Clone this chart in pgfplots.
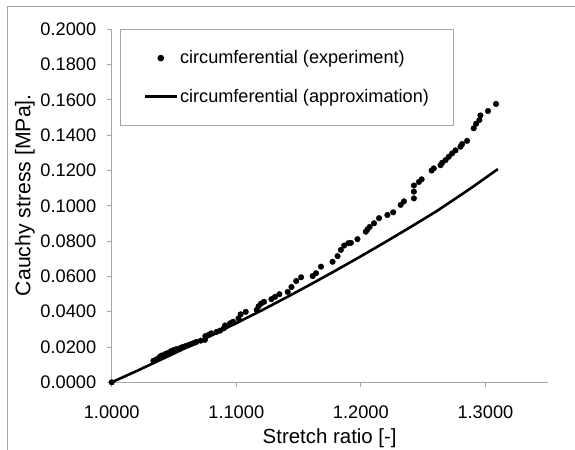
\documentclass[border=0pt]{standalone}
\usepackage{pgfplots}
\pgfplotsset{compat=1.18}
\usepackage{fontspec}
\setmainfont{Liberation Sans}
\definecolor{axisgray}{RGB}{165,165,165}
\begin{document}
\begin{tikzpicture}
% page frame, same size as the reference picture
\path[use as bounding box] (-111.7bp,-67.7bp) rectangle (463.3bp,382.3bp);
\draw[axisgray, line width=1bp] (-103.7bp,-67.7bp) -- (-103.7bp,375.3bp) -- (463.3bp,375.3bp);
\begin{axis}[
  scale only axis, width=436bp, height=353bp,
  xmin=1, xmax=1.35, ymin=0, ymax=0.2,
  axis x line*=bottom, axis y line*=left,
  axis line style={axisgray, line width=1bp, -},
  xtick={1,1.1,1.2,1.3},
  ytick={0,0.02,0.04,0.06,0.08,0.1,0.12,0.14,0.16,0.18,0.2},
  tick align=outside, major tick length=5bp,
  tick style={axisgray, line width=1bp},
  scaled ticks=false,
  /pgf/number format/assume math mode=true,
  xticklabel style={font=\fontsize{18.3}{21}\selectfont, yshift=-15bp, /pgf/number format/.cd, fixed, fixed zerofill, precision=4},
  yticklabel style={font=\fontsize{18.3}{21}\selectfont, xshift=-7bp, /pgf/number format/.cd, fixed, fixed zerofill, precision=4},
  xlabel={Stretch ratio [-]},
  ylabel={Cauchy stress [MPa].},
  xlabel style={font=\fontsize{20.5}{24}\selectfont, at={(axis description cs:0.5,-0.158)}, anchor=center},
  ylabel style={font=\fontsize{21.3}{24}\selectfont, at={(axis description cs:-0.199,0.53)}, anchor=center},
  clip=false,
  legend cell align=left,
  legend style={at={(axis description cs:0.019,1)}, anchor=north west,
    draw=axisgray, line width=1bp, font=\fontsize{18.2}{21}\selectfont,
    inner xsep=23bp, inner ysep=19bp, row sep=20bp},
  legend image code/.code={\draw[#1] (0bp,0bp) -- (32bp,0bp);},
]
\addplot[only marks, mark=*, mark size=2.8bp, black,
  legend image code/.code={\draw[mark=*, mark size=2.8bp, black] plot coordinates {(16bp,0bp)};}]
coordinates {
(1.0000,0.0000) (1.0335,0.0122) (1.0360,0.0130) (1.0387,0.0145) (1.0402,0.0152)
(1.0430,0.0160) (1.0446,0.0165) (1.0475,0.0176) (1.0500,0.0183) (1.0520,0.0188)
(1.0548,0.0193) (1.0570,0.0200) (1.0592,0.0205) (1.0615,0.0210) (1.0636,0.0216)
(1.0660,0.0223) (1.0680,0.0229) (1.0715,0.0236) (1.0748,0.0240) (1.0752,0.0262)
(1.0780,0.0270) (1.0800,0.0277) (1.0842,0.0286) (1.0870,0.0293) (1.0900,0.0306)
(1.0910,0.0322) (1.0950,0.0334) (1.0974,0.0343) (1.1018,0.0362) (1.1035,0.0385)
(1.1076,0.0399) (1.1164,0.0410) (1.1179,0.0431) (1.1199,0.0446) (1.1223,0.0456)
(1.1282,0.0471) (1.1311,0.0484) (1.1346,0.0499) (1.1413,0.0512) (1.1443,0.0540)
(1.1481,0.0574) (1.1520,0.0595) (1.1613,0.0602) (1.1640,0.0618) (1.1680,0.0655)
(1.1773,0.0683) (1.1813,0.0715) (1.1840,0.0750) (1.1866,0.0775) (1.1900,0.0788)
(1.1920,0.0790) (1.1973,0.0811) (1.2040,0.0853) (1.2053,0.0866) (1.2070,0.0880)
(1.2106,0.0901) (1.2146,0.0930) (1.2213,0.0948) (1.2260,0.0963) (1.2320,0.1005)
(1.2346,0.1025) (1.2426,0.1042) (1.2426,0.1080) (1.2426,0.1115) (1.2466,0.1135)
(1.2488,0.1150) (1.2568,0.1200) (1.2586,0.1212) (1.2640,0.1230) (1.2653,0.1244)
(1.2680,0.1259) (1.2706,0.1278) (1.2733,0.1297) (1.2760,0.1314) (1.2800,0.1335)
(1.2813,0.1350) (1.2853,0.1368) (1.2906,0.1439) (1.2925,0.1465) (1.2952,0.1486)
(1.2960,0.1512) (1.3021,0.1537) (1.3085,0.1577)
};
\addlegendentry{circumferential (experiment)}
\addplot[black, line width=2.6bp, no marks] coordinates {
(1.00,0.0000) (1.02,0.0064) (1.04,0.0130) (1.06,0.0197) (1.08,0.0265)
(1.10,0.0335) (1.12,0.0406) (1.14,0.0480) (1.16,0.0556) (1.18,0.0634)
(1.20,0.0714) (1.22,0.0796) (1.24,0.0880) (1.26,0.0966) (1.27,0.1013)
(1.28,0.1060) (1.29,0.1108) (1.30,0.1158) (1.31,0.1208)
};
\addlegendentry{circumferential (approximation)}
\end{axis}
\end{tikzpicture}
\end{document}
